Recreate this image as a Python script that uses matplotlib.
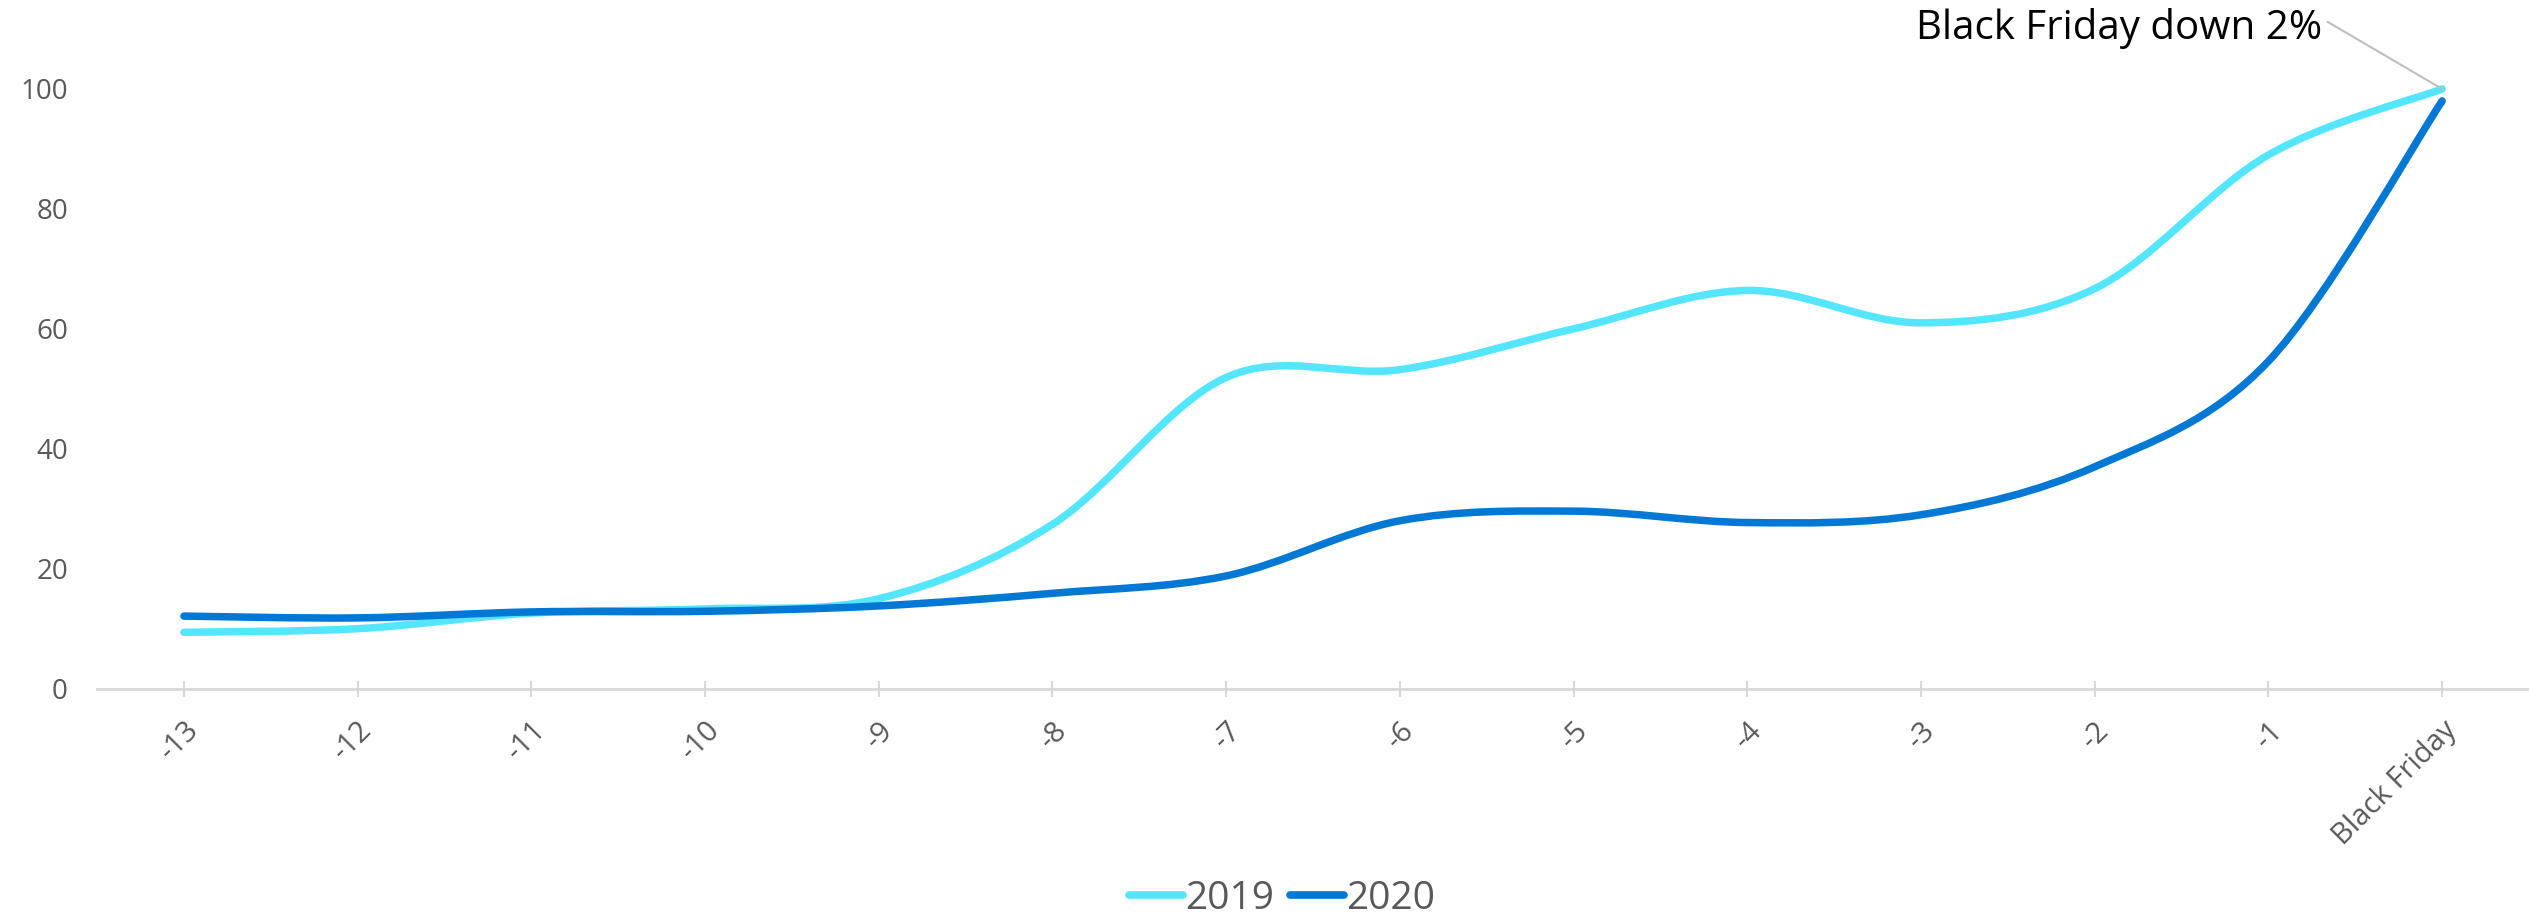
import matplotlib
matplotlib.use('Agg')
import matplotlib.pyplot as plt  # noqa E402
from matplotlib.path import Path  # noqa E402
from matplotlib.patches import PathPatch  # noqa E402
from matplotlib.lines import Line2D  # noqa E402

# Days before Black Friday
days = ['-13', '-12', '-11', '-10', '-9', '-8', '-7',
        '-6', '-5', '-4', '-3', '-2', '-1', 'Black Friday']
# Indexed traffic (Black Friday 2019 = 100)
vals_2019 = [9.4, 10.0, 12.6, 13.3, 15.0, 27.4, 51.9,
             53.2, 60.0, 66.4, 61.0, 66.7, 89.0, 100.0]
vals_2020 = [12.1, 11.8, 12.8, 12.9, 13.8, 15.9, 18.8,
             28.0, 29.6, 27.7, 29.0, 37.0, 54.6, 98.0]
series_names = ['2019', '2020']
colors = ['#55E6FF', '#0078D4']
note = 'Black Friday down 2%'

plt.rcParams['font.family'] = ['Open Sans', 'DejaVu Sans']
grey_txt = '#595959'


def smooth_path(ys):
    ''' Excel-like smoothed line: cubic bezier between data points
    '''
    pts = list(enumerate(ys))
    verts = [pts[0]]
    codes = [Path.MOVETO]
    n = len(pts)
    for i in range(n - 1):
        p0 = pts[max(i - 1, 0)]
        p1 = pts[i]
        p2 = pts[i + 1]
        p3 = pts[min(i + 2, n - 1)]
        c1 = (p1[0] + (p2[0] - p0[0]) / 6.0, p1[1] + (p2[1] - p0[1]) / 6.0)
        c2 = (p2[0] - (p3[0] - p1[0]) / 6.0, p2[1] - (p3[1] - p1[1]) / 6.0)
        verts += [c1, c2, p2]
        codes += [Path.CURVE4] * 3
    return Path(verts, codes)


fig = plt.figure(figsize=(25.29, 9.17), dpi=100)
ax = fig.add_axes([0.0384, 0.249, 0.9616, 0.654])

for ys, col in zip([vals_2019, vals_2020], colors):
    patch = PathPatch(smooth_path(ys), facecolor='none', edgecolor=col,
                      linewidth=5.4, capstyle='round', joinstyle='round',
                      clip_on=False)
    ax.add_patch(patch)

ax.set_xlim(-0.5, len(days) - 0.5)
ax.set_ylim(0, 100)
ax.set_yticks([0, 20, 40, 60, 80, 100])
ax.set_xticks(range(len(days)))
ax.set_xticklabels(days, rotation=45, ha='right', rotation_mode='anchor')

for s in ['top', 'right', 'left']:
    ax.spines[s].set_visible(False)
ax.spines['bottom'].set_color('#d9d9d9')
ax.spines['bottom'].set_linewidth(2)
ax.tick_params(axis='y', length=0, pad=21, labelsize=20, labelcolor=grey_txt)
ax.tick_params(axis='x', direction='inout', length=11, width=1.5,
               color='#d9d9d9', pad=14, labelsize=21, labelcolor=grey_txt)

# Leader note for Black Friday
ax.annotate(note, xy=(len(days) - 1, 100), xycoords='data',
            xytext=(12.31, 110), textcoords='data',
            ha='right', va='center', fontsize=29, color='black',
            annotation_clip=False,
            arrowprops=dict(arrowstyle='-', color='#bfbfbf', lw=1.5,
                            relpos=(1.0, 0.75), shrinkA=2, shrinkB=0))

handles = [Line2D([], [], color=c, linewidth=5.5, solid_capstyle='round')
           for c in colors]
fig.legend(handles, series_names, loc='center', ncol=2,
           bbox_to_anchor=(0.507, 0.02), frameon=False, fontsize=28,
           labelcolor=grey_txt, handlelength=1.4, handletextpad=0.05,
           columnspacing=0.4)

fig.savefig('out.png', dpi=100)
